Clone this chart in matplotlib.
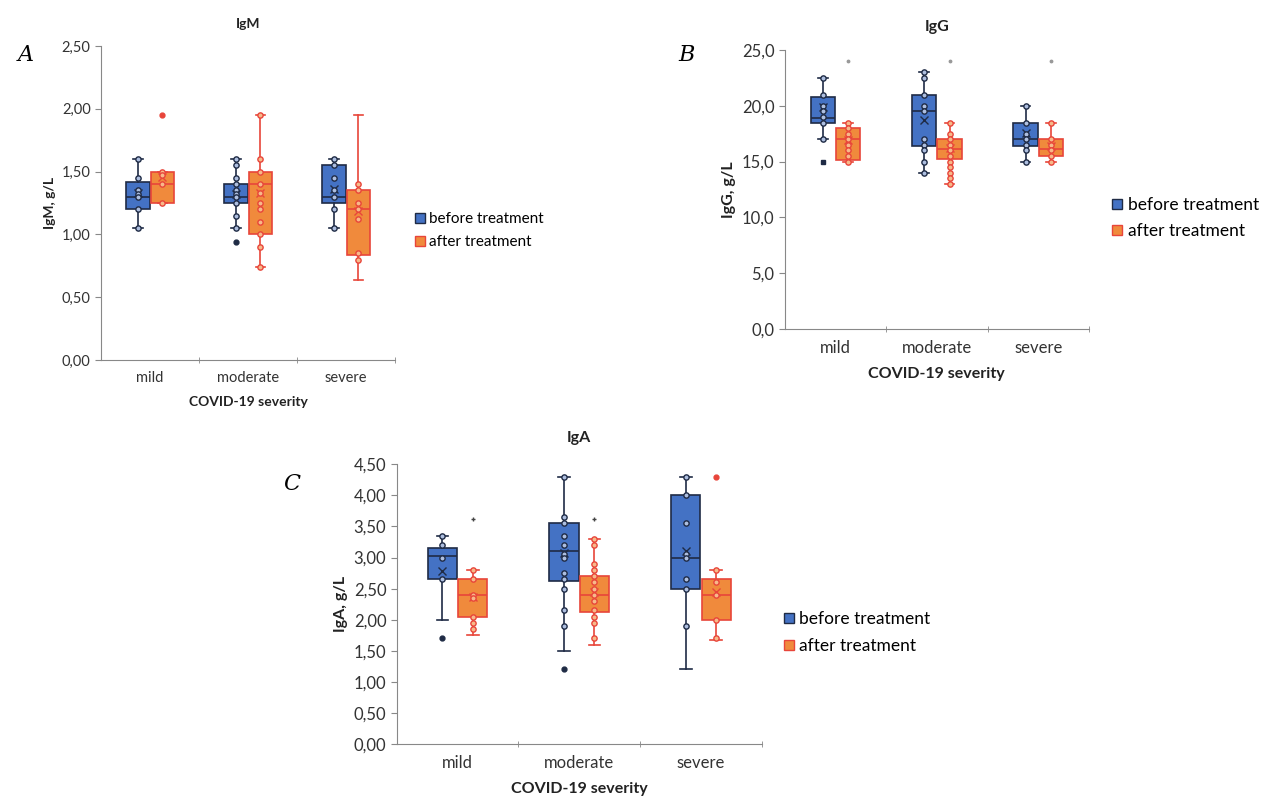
import matplotlib
matplotlib.use('Agg')
import matplotlib.pyplot as plt
from matplotlib.ticker import FuncFormatter, FixedLocator
from matplotlib.lines import Line2D

categories = ['mild', 'moderate', 'severe']

# IgM
A_before_q1 = [1.20, 1.25, 1.25]
A_before_med = [1.30, 1.30, 1.30]
A_before_q3 = [1.42, 1.40, 1.55]
A_before_lo = [1.05, 1.05, 1.05]
A_before_hi = [1.60, 1.60, 1.60]
A_before_mean = [1.33, 1.32, 1.36]
A_before_pts = [[1.60, 1.45, 1.35, 1.32, 1.30, 1.20, 1.05],
                [1.60, 1.55, 1.45, 1.40, 1.35, 1.32, 1.30, 1.25, 1.15, 1.05],
                [1.60, 1.55, 1.45, 1.35, 1.30, 1.20, 1.05]]
A_before_out = [[], [0.94], []]
A_after_q1 = [1.25, 1.00, 0.84]
A_after_med = [1.40, 1.40, 1.20]
A_after_q3 = [1.50, 1.50, 1.35]
A_after_lo = [1.25, 0.74, 0.64]
A_after_hi = [1.50, 1.95, 1.95]
A_after_mean = [1.46, 1.33, 1.19]
A_after_pts = [[1.50, 1.47, 1.40, 1.25],
               [1.95, 1.60, 1.50, 1.40, 1.33, 1.25, 1.20, 1.10, 1.00, 0.90, 0.74],
               [1.40, 1.35, 1.25, 1.20, 1.12, 0.85, 0.80]]
A_after_out = [[1.95], [], []]

# IgG
B_before_q1 = [18.5, 16.4, 16.4]
B_before_med = [18.9, 19.5, 17.0]
B_before_q3 = [20.8, 21.0, 18.5]
B_before_lo = [17.0, 14.0, 15.0]
B_before_hi = [22.5, 23.0, 20.0]
B_before_mean = [19.9, 18.7, 17.6]
B_before_pts = [[22.5, 21.0, 20.0, 19.5, 19.0, 18.5, 17.0],
                [23.0, 22.5, 21.0, 20.0, 19.5, 17.0, 16.5, 16.0, 15.0, 14.0],
                [20.0, 18.5, 17.5, 17.0, 16.5, 16.0, 15.0]]
B_before_out = [[15.0], [], []]
B_after_q1 = [15.1, 15.2, 15.5]
B_after_med = [17.0, 16.1, 16.1]
B_after_q3 = [18.0, 17.0, 17.0]
B_after_lo = [15.0, 13.0, 15.0]
B_after_hi = [18.5, 18.5, 18.5]
B_after_mean = [16.9, 16.2, 16.4]
B_after_pts = [[18.5, 18.0, 17.5, 17.0, 16.5, 16.0, 15.5, 15.0],
               [18.5, 17.5, 17.0, 16.5, 16.0, 15.5, 15.0, 14.5, 14.0, 13.5, 13.0],
               [18.5, 17.0, 16.5, 16.0, 15.5, 15.0]]
B_after_out = [[24.0], [24.0], [24.0]]

# IgA
C_before_q1 = [2.65, 2.62, 2.50]
C_before_med = [3.02, 3.10, 3.00]
C_before_q3 = [3.16, 3.56, 4.00]
C_before_lo = [2.00, 1.50, 1.20]
C_before_hi = [3.35, 4.30, 4.30]
C_before_mean = [2.78, 3.07, 3.10]
C_before_pts = [[3.35, 3.20, 3.00, 2.65],
                [4.30, 3.65, 3.55, 3.35, 3.20, 3.05, 3.00, 2.75, 2.65, 2.50, 2.15, 1.90],
                [4.30, 4.00, 3.55, 3.05, 3.00, 2.65, 2.50, 1.90]]
C_before_out = [[1.70], [1.20], []]
C_after_q1 = [2.05, 2.13, 2.00]
C_after_med = [2.40, 2.40, 2.40]
C_after_q3 = [2.65, 2.70, 2.65]
C_after_lo = [1.75, 1.60, 1.67]
C_after_hi = [2.80, 3.30, 2.80]
C_after_mean = [2.37, 2.44, 2.45]
C_after_pts = [[2.80, 2.65, 2.40, 2.35, 2.05, 1.95, 1.85],
               [3.30, 3.20, 2.90, 2.80, 2.70, 2.60, 2.50, 2.40, 2.30, 2.15, 2.05, 1.95, 1.70],
               [2.80, 2.60, 2.40, 2.00, 1.70]]
C_after_out = [[3.62], [3.62], [4.30]]

BLUE, BLUE_EDGE, BLUE_PT = '#4472c4', '#1f2b45', '#aebfe0'
ORANGE, ORANGE_EDGE, ORANGE_PT = '#f08a3c', '#e8453a', '#f7b98a'

plt.rcParams['font.family'] = ['Lato', 'DejaVu Sans']

fig = plt.figure(figsize=(12.68, 8.06), dpi=100)


def stats(q1, med, q3, lo, hi, mean):
  return [dict(q1=q1[i], med=med[i], q3=q3[i], whislo=lo[i], whishi=hi[i],
               mean=mean[i], fliers=[]) for i in range(len(q1))]


def series(ax, st, pts, out, offset, width, face, edge, ptface, outcolors, outmarkers):
  pos = [i + offset for i in range(len(st))]
  ax.bxp(st, positions=pos, widths=width, patch_artist=True, showmeans=True,
         showfliers=False,
         boxprops=dict(facecolor=face, edgecolor=edge, linewidth=1.2),
         medianprops=dict(color=edge, linewidth=1.2),
         whiskerprops=dict(color=edge, linewidth=1.2),
         capprops=dict(color=edge, linewidth=1.2),
         capwidths=width * 0.4,
         meanprops=dict(marker='x', markeredgecolor=edge, markersize=6, markeredgewidth=1.0))
  for p, vals in zip(pos, pts):
    ax.plot([p] * len(vals), vals, 'o', ms=3.8, mfc=ptface, mec=edge, mew=1.0, zorder=5)
  for p, vals, c, m in zip(pos, out, outcolors, outmarkers):
    if vals:
      ax.plot([p] * len(vals), vals, m, ms=3.5, mfc=c, mec=c, mew=1.0, zorder=5)


def panel(rect, title, letter, letter_xy, ylabel, ylim, yticks, ydec, fs, tpad,
          before, after, legend_xy, out_b, out_a):
  ax = fig.add_axes(rect)
  width = 0.24
  off = 0.125
  series(ax, stats(*before[:6]), before[6], before[7], -off, width,
         BLUE, BLUE_EDGE, BLUE_PT, *out_b)
  series(ax, stats(*after[:6]), after[6], after[7], off, width,
         ORANGE, ORANGE_EDGE, ORANGE_PT, *out_a)
  ax.set_xlim(-0.5, 2.5)
  ax.set_ylim(*ylim)
  ax.set_yticks(yticks)
  ax.yaxis.set_major_formatter(FuncFormatter(lambda v, p: f'{v:.{ydec}f}'.replace('.', ',')))
  ax.set_xticks([0, 1, 2])
  ax.set_xticklabels(categories)
  ax.xaxis.set_minor_locator(FixedLocator([0.5, 1.5, 2.5]))
  ax.tick_params(axis='x', which='major', length=0, labelsize=fs, colors='#333333', pad=8)
  ax.tick_params(axis='x', which='minor', length=5, direction='inout', color='#888888')
  ax.tick_params(axis='y', length=4, labelsize=fs, colors='#333333', color='#888888')
  for s in ['top', 'right']:
    ax.spines[s].set_visible(False)
  for s in ['left', 'bottom']:
    ax.spines[s].set_color('#888888')
  ax.set_title(title, fontsize=fs - 0.5, fontweight='bold', pad=tpad, color='#222222')
  ax.set_ylabel(ylabel, fontsize=fs - 0.5, fontweight='bold', color='#222222')
  ax.set_xlabel('COVID-19 severity', fontsize=fs - 0.5, fontweight='bold', color='#222222',
                labelpad=8)
  fig.text(letter_xy[0], letter_xy[1], letter, fontsize=16, style='italic',
           family='DejaVu Serif', va='center', ha='left')
  handles = [Line2D([], [], ls='none', marker='s', ms=7, mfc=BLUE, mec=BLUE_EDGE),
             Line2D([], [], ls='none', marker='s', ms=7, mfc=ORANGE, mec=ORANGE_EDGE)]
  fig.legend(handles, ['before treatment', 'after treatment'], loc='upper left',
             bbox_to_anchor=legend_xy, frameon=False, fontsize=fs + 0.5,
             handletextpad=0.1, labelspacing=0.6, handlelength=1.0)
  return ax


panel([0.0797, 0.5533, 0.2319, 0.3896], 'IgM', 'A', (0.014, 0.932), 'IgM, g/L',
      (0, 2.5), [0, 0.5, 1.0, 1.5, 2.0, 2.5], 2, 10.5, 13,
      [A_before_q1, A_before_med, A_before_q3, A_before_lo, A_before_hi, A_before_mean,
       A_before_pts, A_before_out],
      [A_after_q1, A_after_med, A_after_q3, A_after_lo, A_after_hi, A_after_mean,
       A_after_pts, A_after_out],
      (0.314, 0.754),
      (['#1f2b45'] * 3, ['o'] * 3), (['#e8453a'] * 3, ['o'] * 3))

panel([0.619, 0.5918, 0.2397, 0.3462], 'IgG', 'B', (0.535, 0.932), 'IgG, g/L',
      (0, 25), [0, 5, 10, 15, 20, 25], 1, 12, 14,
      [B_before_q1, B_before_med, B_before_q3, B_before_lo, B_before_hi, B_before_mean,
       B_before_pts, B_before_out],
      [B_after_q1, B_after_med, B_after_q3, B_after_lo, B_after_hi, B_after_mean,
       B_after_pts, B_after_out],
      (0.862, 0.775),
      (['#1f2b45'] * 3, ['s'] * 3), (['#999999'] * 3, ['.'] * 3))

panel([0.3129, 0.0769, 0.2879, 0.347], 'IgA', 'C', (0.223, 0.399), 'IgA, g/L',
      (0, 4.5), [0, 0.5, 1.0, 1.5, 2.0, 2.5, 3.0, 3.5, 4.0, 4.5], 2, 12, 16,
      [C_before_q1, C_before_med, C_before_q3, C_before_lo, C_before_hi, C_before_mean,
       C_before_pts, C_before_out],
      [C_after_q1, C_after_med, C_after_q3, C_after_lo, C_after_hi, C_after_mean,
       C_after_pts, C_after_out],
      (0.603, 0.261),
      (['#1f2b45'] * 3, ['o'] * 3), (['#444444', '#444444', '#e8453a'], ['+', '+', 'o']))

fig.savefig('out.png', dpi=100)
